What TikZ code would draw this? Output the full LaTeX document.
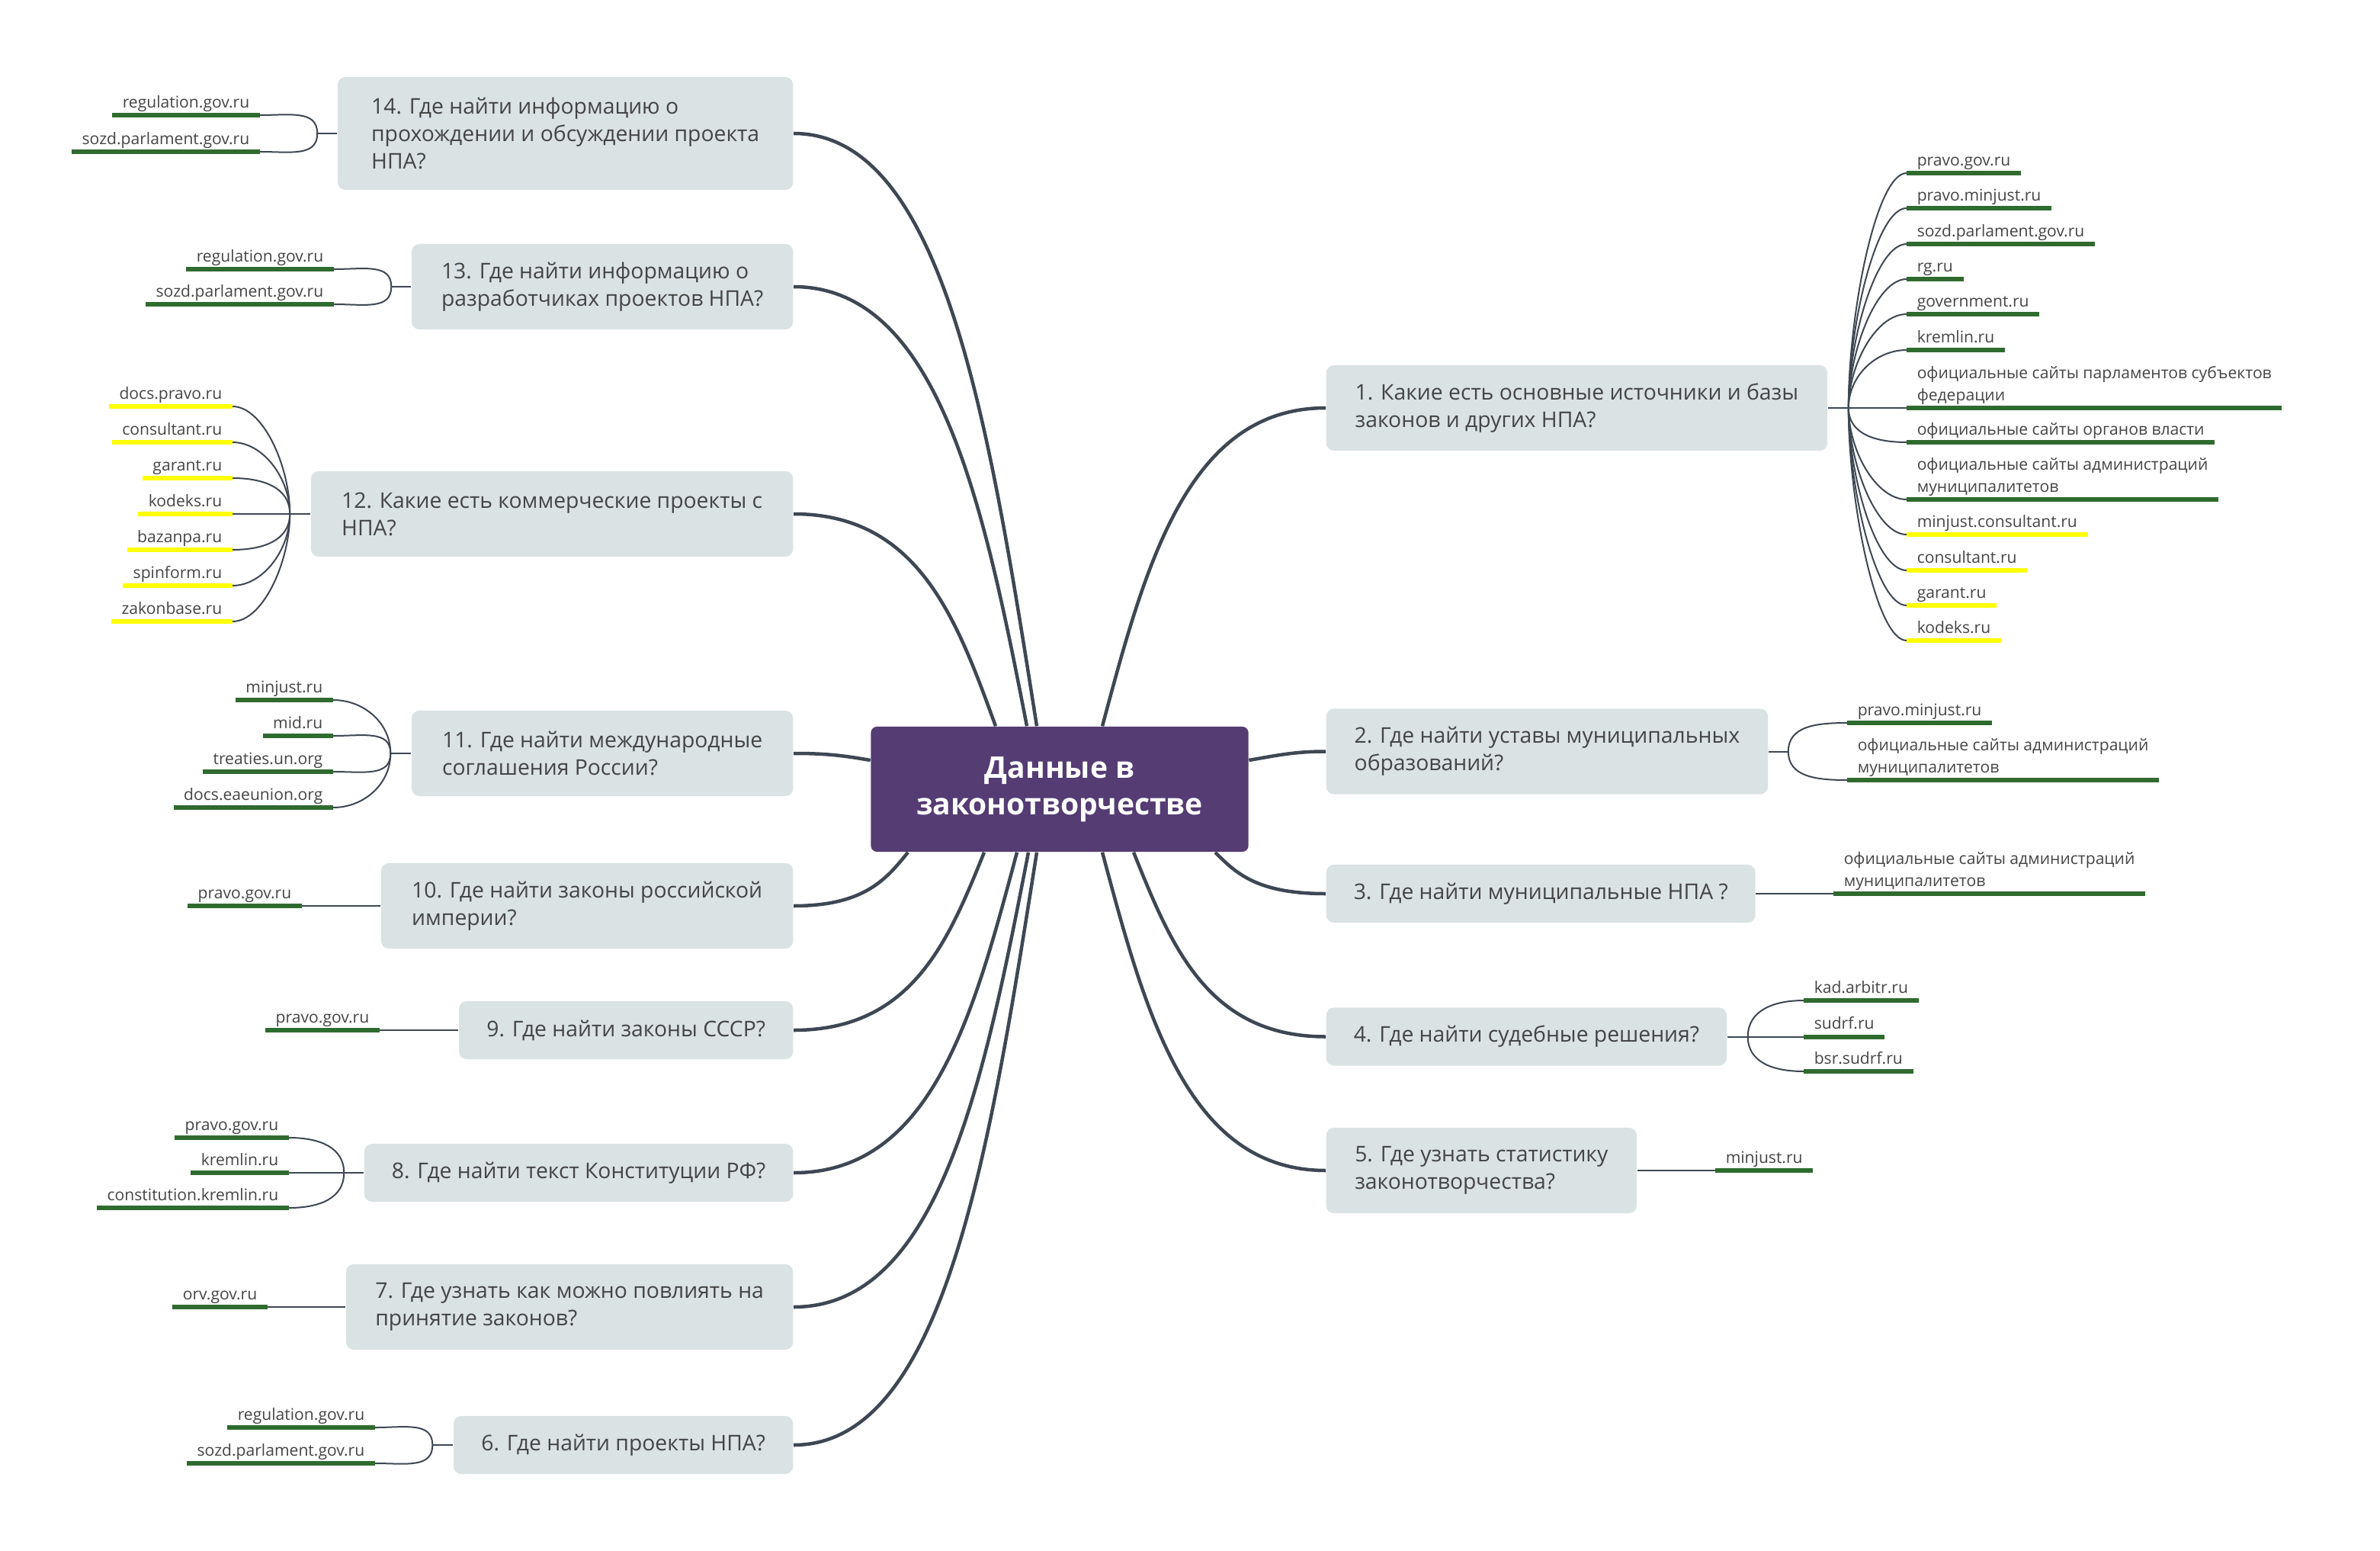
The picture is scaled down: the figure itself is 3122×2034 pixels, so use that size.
\documentclass[tikz,border=0pt]{standalone}
\usepackage{fontspec}
\setmainfont{Open Sans}
\usetikzlibrary{positioning, calc}

\definecolor{hubpurple}{HTML}{553C73}
\definecolor{boxgray}{HTML}{DBE2E4}
\definecolor{txtgray}{HTML}{444444}
\definecolor{linegray}{HTML}{3E4753}
\definecolor{bargreen}{HTML}{2F6B2F}
\definecolor{baryellow}{HTML}{FFFF00}

\begin{document}
\begin{tikzpicture}[
  x=0.01cm, y=0.01cm,
  hub/.style   ={fill=hubpurple, text=white, rounded corners=0.08cm, align=center,
                 font=\bfseries\fontsize{11.1}{13.7}\selectfont,
                 minimum width=4.95cm, minimum height=1.64cm},
  qbox/.style  ={fill=boxgray, text=txtgray, rounded corners=0.1cm, align=left,
                 inner xsep=0.36cm, font=\fontsize{8.05}{10.24}\selectfont,
                 minimum height=0.76cm},
  qbox2/.style ={qbox, minimum height=1.12cm},
  qbox3/.style ={qbox, minimum height=1.48cm},
  leaf/.style  ={text=txtgray, inner xsep=0.13cm, inner ysep=0.04cm, text depth=1.5pt,
                 font=\fontsize{6}{8.25}\selectfont},
  gbar/.style  ={draw=bargreen, line width=0.06cm},
  ybar/.style  ={draw=baryellow, line width=0.06cm},
  gleaf/.style ={leaf, append after command={(\tikzlastnode.south west) edge[gbar] (\tikzlastnode.south east)}},
  yleaf/.style ={leaf, append after command={(\tikzlastnode.south west) edge[ybar] (\tikzlastnode.south east)}},
  twol/.style  ={align=left, text depth={}},
  branch/.style={draw=linegray, line width=0.045cm},
  sub/.style   ={draw=linegray, line width=0.02cm},
  ur/.style    ={out=90, in=180, in distance=0.4cm},
  dr/.style    ={out=-90, in=180, in distance=0.4cm},
  ul/.style    ={out=90, in=0, in distance=0.4cm},
  dl/.style    ={out=-90, in=0, in distance=0.4cm},
]
\useasboundingbox (0,0) rectangle (3122,-2034);

%% ---- Centre ----
\node[hub] (hub) at (1390,-1035) {Данные в\\законотворчестве};

%% ---- Right side questions ----
\node[qbox2, anchor=west, minimum width=6.57cm] (q1) at (1739,-535)    {1. Какие есть основные источники и базы\\законов и других НПА?};
\node[qbox2, anchor=west, minimum width=5.79cm] (q2) at (1739,-985.5)  {2. Где найти уставы муниципальных\\образований?};
\node[qbox,  anchor=west, minimum width=5.62cm] (q3) at (1739,-1172)   {3. Где найти муниципальные НПА ?};
\node[qbox,  anchor=west, minimum width=5.23cm] (q4) at (1739,-1359.5) {4. Где найти судебные решения?};
\node[qbox2, anchor=west, minimum width=4.07cm] (q5) at (1739,-1535)   {5. Где узнать статистику\\законотворчества?};

%% ---- Left side questions ----
\node[qbox3, anchor=east, minimum width=5.97cm] (q14) at (1041,-175)  {14. Где найти информацию о\\прохождении и обсуждении проекта\\НПА?};
\node[qbox2, anchor=east, minimum width=5.00cm] (q13) at (1041,-376)  {13. Где найти информацию о\\разработчиках проектов НПА?};
\node[qbox2, anchor=east, minimum width=6.32cm] (q12) at (1041,-674)  {12. Какие есть коммерческие проекты с\\НПА?};
\node[qbox2, anchor=east, minimum width=5.00cm] (q11) at (1041,-988)  {11. Где найти международные\\соглашения России?};
\node[qbox2, anchor=east, minimum width=5.40cm] (q10) at (1041,-1188) {10. Где найти законы российской\\империи?};
\node[qbox,  anchor=east, minimum width=4.38cm] (q9)  at (1041,-1351) {9. Где найти законы СССР?};
\node[qbox,  anchor=east, minimum width=5.59cm] (q8)  at (1041,-1538) {8. Где найти текст Конституции РФ?};
\node[qbox2, anchor=east, minimum width=5.86cm] (q7)  at (1041,-1714) {7. Где узнать как можно повлиять на\\принятие законов?};
\node[qbox,  anchor=east, minimum width=4.45cm] (q6)  at (1041,-1895) {6. Где найти проекты НПА?};

%% ---- Centre -> questions ----
\draw[branch] ($(hub.north)+(56,0)$)   to[out=75, in=180, out distance=2.16cm, in distance=1.82cm] (q1.west);
\draw[branch] ($(hub.east)+(0,38)$)    to[out=10, in=180] (q2.west);
\draw[branch] ($(hub.south)+(204,0)$)  to[out=-45, in=180, out distance=0.39cm, in distance=0.9cm] (q3.west);
\draw[branch] ($(hub.south)+(97,0)$)   to[out=-68, in=180, out distance=1.3cm, in distance=1.56cm] (q4.west);
\draw[branch] ($(hub.south)+(56,0)$)   to[out=-75, in=180, out distance=2.16cm, in distance=1.82cm] (q5.west);
\draw[branch] ($(hub.north)+(-30,0)$)  to[out=99, in=0, out distance=3.94cm, in distance=1.98cm] (q14.east);
\draw[branch] ($(hub.north)+(-43,0)$)  to[out=101, in=0, out distance=2.94cm, in distance=1.9cm] (q13.east);
\draw[branch] ($(hub.north)+(-84,0)$)  to[out=110, in=0, out distance=1.48cm, in distance=1.64cm] (q12.east);
\draw[branch] ($(hub.west)+(0,38)$)    to[out=170, in=0] (q11.east);
\draw[branch] ($(hub.south)+(-199,0)$) to[out=-129, in=0, out distance=0.45cm, in distance=0.93cm] (q10.east);
\draw[branch] ($(hub.south)+(-99,0)$)  to[out=-112, in=0, out distance=1.26cm, in distance=1.55cm] (q9.east);
\draw[branch] ($(hub.south)+(-56,0)$)  to[out=-105, in=0, out distance=2.18cm, in distance=1.82cm] (q8.east);
\draw[branch] ($(hub.south)+(-41,0)$)  to[out=-101, in=0, out distance=3.04cm, in distance=1.91cm] (q7.east);
\draw[branch] ($(hub.south)+(-30,0)$)  to[out=-99, in=0, out distance=3.94cm, in distance=1.98cm] (q6.east);

%% ---- 1: sources ----
\coordinate[right=0.27cm of q1] (f1);
\node[gleaf, anchor=south west] (s1a) at (2501,-227) {pravo.gov.ru};
\node[gleaf, anchor=south west] (s1b) at (2501,-273) {pravo.minjust.ru};
\node[gleaf, anchor=south west] (s1c) at (2501,-320) {sozd.parlament.gov.ru};
\node[gleaf, anchor=south west] (s1d) at (2501,-366) {rg.ru};
\node[gleaf, anchor=south west] (s1e) at (2501,-412) {government.ru};
\node[gleaf, anchor=south west] (s1f) at (2501,-459) {kremlin.ru};
\node[gleaf, twol, anchor=south west] (s1g) at (2501,-535) {официальные сайты парламентов субъектов\\федерации};
\node[gleaf, anchor=south west] (s1h) at (2501,-580) {официальные сайты органов власти};
\node[gleaf, twol, anchor=south west] (s1i) at (2501,-655) {официальные сайты администраций\\муниципалитетов};
\node[yleaf, anchor=south west] (s1j) at (2501,-701) {minjust.consultant.ru};
\node[yleaf, anchor=south west] (s1k) at (2501,-748) {consultant.ru};
\node[yleaf, anchor=south west] (s1l) at (2501,-794) {garant.ru};
\node[yleaf, anchor=south west] (s1m) at (2501,-840) {kodeks.ru};
\draw[sub] (q1.east) -- (f1) -- (s1g.south west);
\draw[sub] (f1) to[ur] (s1a.south west);
\draw[sub] (f1) to[ur] (s1b.south west);
\draw[sub] (f1) to[ur] (s1c.south west);
\draw[sub] (f1) to[ur] (s1d.south west);
\draw[sub] (f1) to[ur] (s1e.south west);
\draw[sub] (f1) to[ur] (s1f.south west);
\draw[sub] (f1) to[dr] (s1h.south west);
\draw[sub] (f1) to[dr] (s1i.south west);
\draw[sub] (f1) to[dr] (s1j.south west);
\draw[sub] (f1) to[dr] (s1k.south west);
\draw[sub] (f1) to[dr] (s1l.south west);
\draw[sub] (f1) to[dr] (s1m.south west);

%% ---- 2..5 ----
\coordinate[right=0.26cm of q2] (f2);
\node[gleaf, anchor=south west] (s2a) at (2423,-948) {pravo.minjust.ru};
\node[gleaf, twol, anchor=south west] (s2b) at (2423,-1023) {официальные сайты администраций\\муниципалитетов};
\draw[sub] (q2.east) -- (f2);
\draw[sub] (f2) to[ur] (s2a.south west);
\draw[sub] (f2) to[dr] (s2b.south west);

\node[gleaf, twol, anchor=south west] (s3) at (2405,-1172) {официальные сайты администраций\\муниципалитетов};
\draw[sub] (q3.east) -- (s3.south west);

\coordinate[right=0.27cm of q4] (f4);
\node[gleaf, anchor=south west] (s4a) at (2366,-1312) {kad.arbitr.ru};
\node[gleaf, anchor=south west] (s4b) at (2366,-1359.5) {sudrf.ru};
\node[gleaf, anchor=south west] (s4c) at (2366,-1405) {bsr.sudrf.ru};
\draw[sub] (q4.east) -- (f4) -- (s4b.south west);
\draw[sub] (f4) to[ur] (s4a.south west);
\draw[sub] (f4) to[dr] (s4c.south west);

\node[gleaf, anchor=south west] (s5) at (2250,-1535) {minjust.ru};
\draw[sub] (q5.east) -- (s5.south west);

%% ---- 14, 13: drafts ----
\coordinate[left=0.26cm of q14] (f14);
\node[gleaf, anchor=south east] (s14a) at (341,-151) {regulation.gov.ru};
\node[gleaf, anchor=south east] (s14b) at (341,-199) {sozd.parlament.gov.ru};
\draw[sub] (q14.west) -- (f14);
\draw[sub] (f14) to[ul] (s14a.south east);
\draw[sub] (f14) to[dl] (s14b.south east);

\coordinate[left=0.26cm of q13] (f13);
\node[gleaf, anchor=south east] (s13a) at (438,-353) {regulation.gov.ru};
\node[gleaf, anchor=south east] (s13b) at (438,-399) {sozd.parlament.gov.ru};
\draw[sub] (q13.west) -- (f13);
\draw[sub] (f13) to[ul] (s13a.south east);
\draw[sub] (f13) to[dl] (s13b.south east);

%% ---- 12: commercial ----
\coordinate[left=0.27cm of q12] (f12);
\node[yleaf, anchor=south east] (s12a) at (305,-533) {docs.pravo.ru};
\node[yleaf, anchor=south east] (s12b) at (305,-580) {consultant.ru};
\node[yleaf, anchor=south east] (s12c) at (305,-627) {garant.ru};
\node[yleaf, anchor=south east] (s12d) at (305,-674) {kodeks.ru};
\node[yleaf, anchor=south east] (s12e) at (305,-721) {bazanpa.ru};
\node[yleaf, anchor=south east] (s12f) at (305,-768) {spinform.ru};
\node[yleaf, anchor=south east] (s12g) at (305,-815) {zakonbase.ru};
\draw[sub] (q12.west) -- (f12) -- (s12d.south east);
\draw[sub] (f12) to[ul] (s12a.south east);
\draw[sub] (f12) to[ul] (s12b.south east);
\draw[sub] (f12) to[ul] (s12c.south east);
\draw[sub] (f12) to[dl] (s12e.south east);
\draw[sub] (f12) to[dl] (s12f.south east);
\draw[sub] (f12) to[dl] (s12g.south east);

%% ---- 11: treaties ----
\coordinate[left=0.27cm of q11] (f11);
\node[gleaf, anchor=south east] (s11a) at (437,-918) {minjust.ru};
\node[gleaf, anchor=south east] (s11b) at (437,-965) {mid.ru};
\node[gleaf, anchor=south east] (s11c) at (437,-1012) {treaties.un.org};
\node[gleaf, anchor=south east] (s11d) at (437,-1059) {docs.eaeunion.org};
\draw[sub] (q11.west) -- (f11);
\draw[sub] (f11) to[ul] (s11a.south east);
\draw[sub] (f11) to[ul] (s11b.south east);
\draw[sub] (f11) to[dl] (s11c.south east);
\draw[sub] (f11) to[dl] (s11d.south east);

%% ---- 10, 9, 7: single sites ----
\node[gleaf, anchor=south east] (s10) at (396,-1188) {pravo.gov.ru};
\draw[sub] (q10.west) -- (s10.south east);
\node[gleaf, anchor=south east] (s9) at (498,-1351) {pravo.gov.ru};
\draw[sub] (q9.west) -- (s9.south east);
\node[gleaf, anchor=south east] (s7) at (351,-1714) {orv.gov.ru};
\draw[sub] (q7.west) -- (s7.south east);

%% ---- 8: constitution ----
\coordinate[left=0.26cm of q8] (f8);
\node[gleaf, anchor=south east] (s8a) at (379,-1492) {pravo.gov.ru};
\node[gleaf, anchor=south east] (s8b) at (379,-1538) {kremlin.ru};
\node[gleaf, anchor=south east] (s8c) at (379,-1584) {constitution.kremlin.ru};
\draw[sub] (q8.west) -- (f8) -- (s8b.south east);
\draw[sub] (f8) to[ul] (s8a.south east);
\draw[sub] (f8) to[dl] (s8c.south east);

%% ---- 6: drafts ----
\coordinate[left=0.27cm of q6] (f6);
\node[gleaf, anchor=south east] (s6a) at (492,-1872) {regulation.gov.ru};
\node[gleaf, anchor=south east] (s6b) at (492,-1919) {sozd.parlament.gov.ru};
\draw[sub] (q6.west) -- (f6);
\draw[sub] (f6) to[ul] (s6a.south east);
\draw[sub] (f6) to[dl] (s6b.south east);

\end{tikzpicture}
\end{document}
